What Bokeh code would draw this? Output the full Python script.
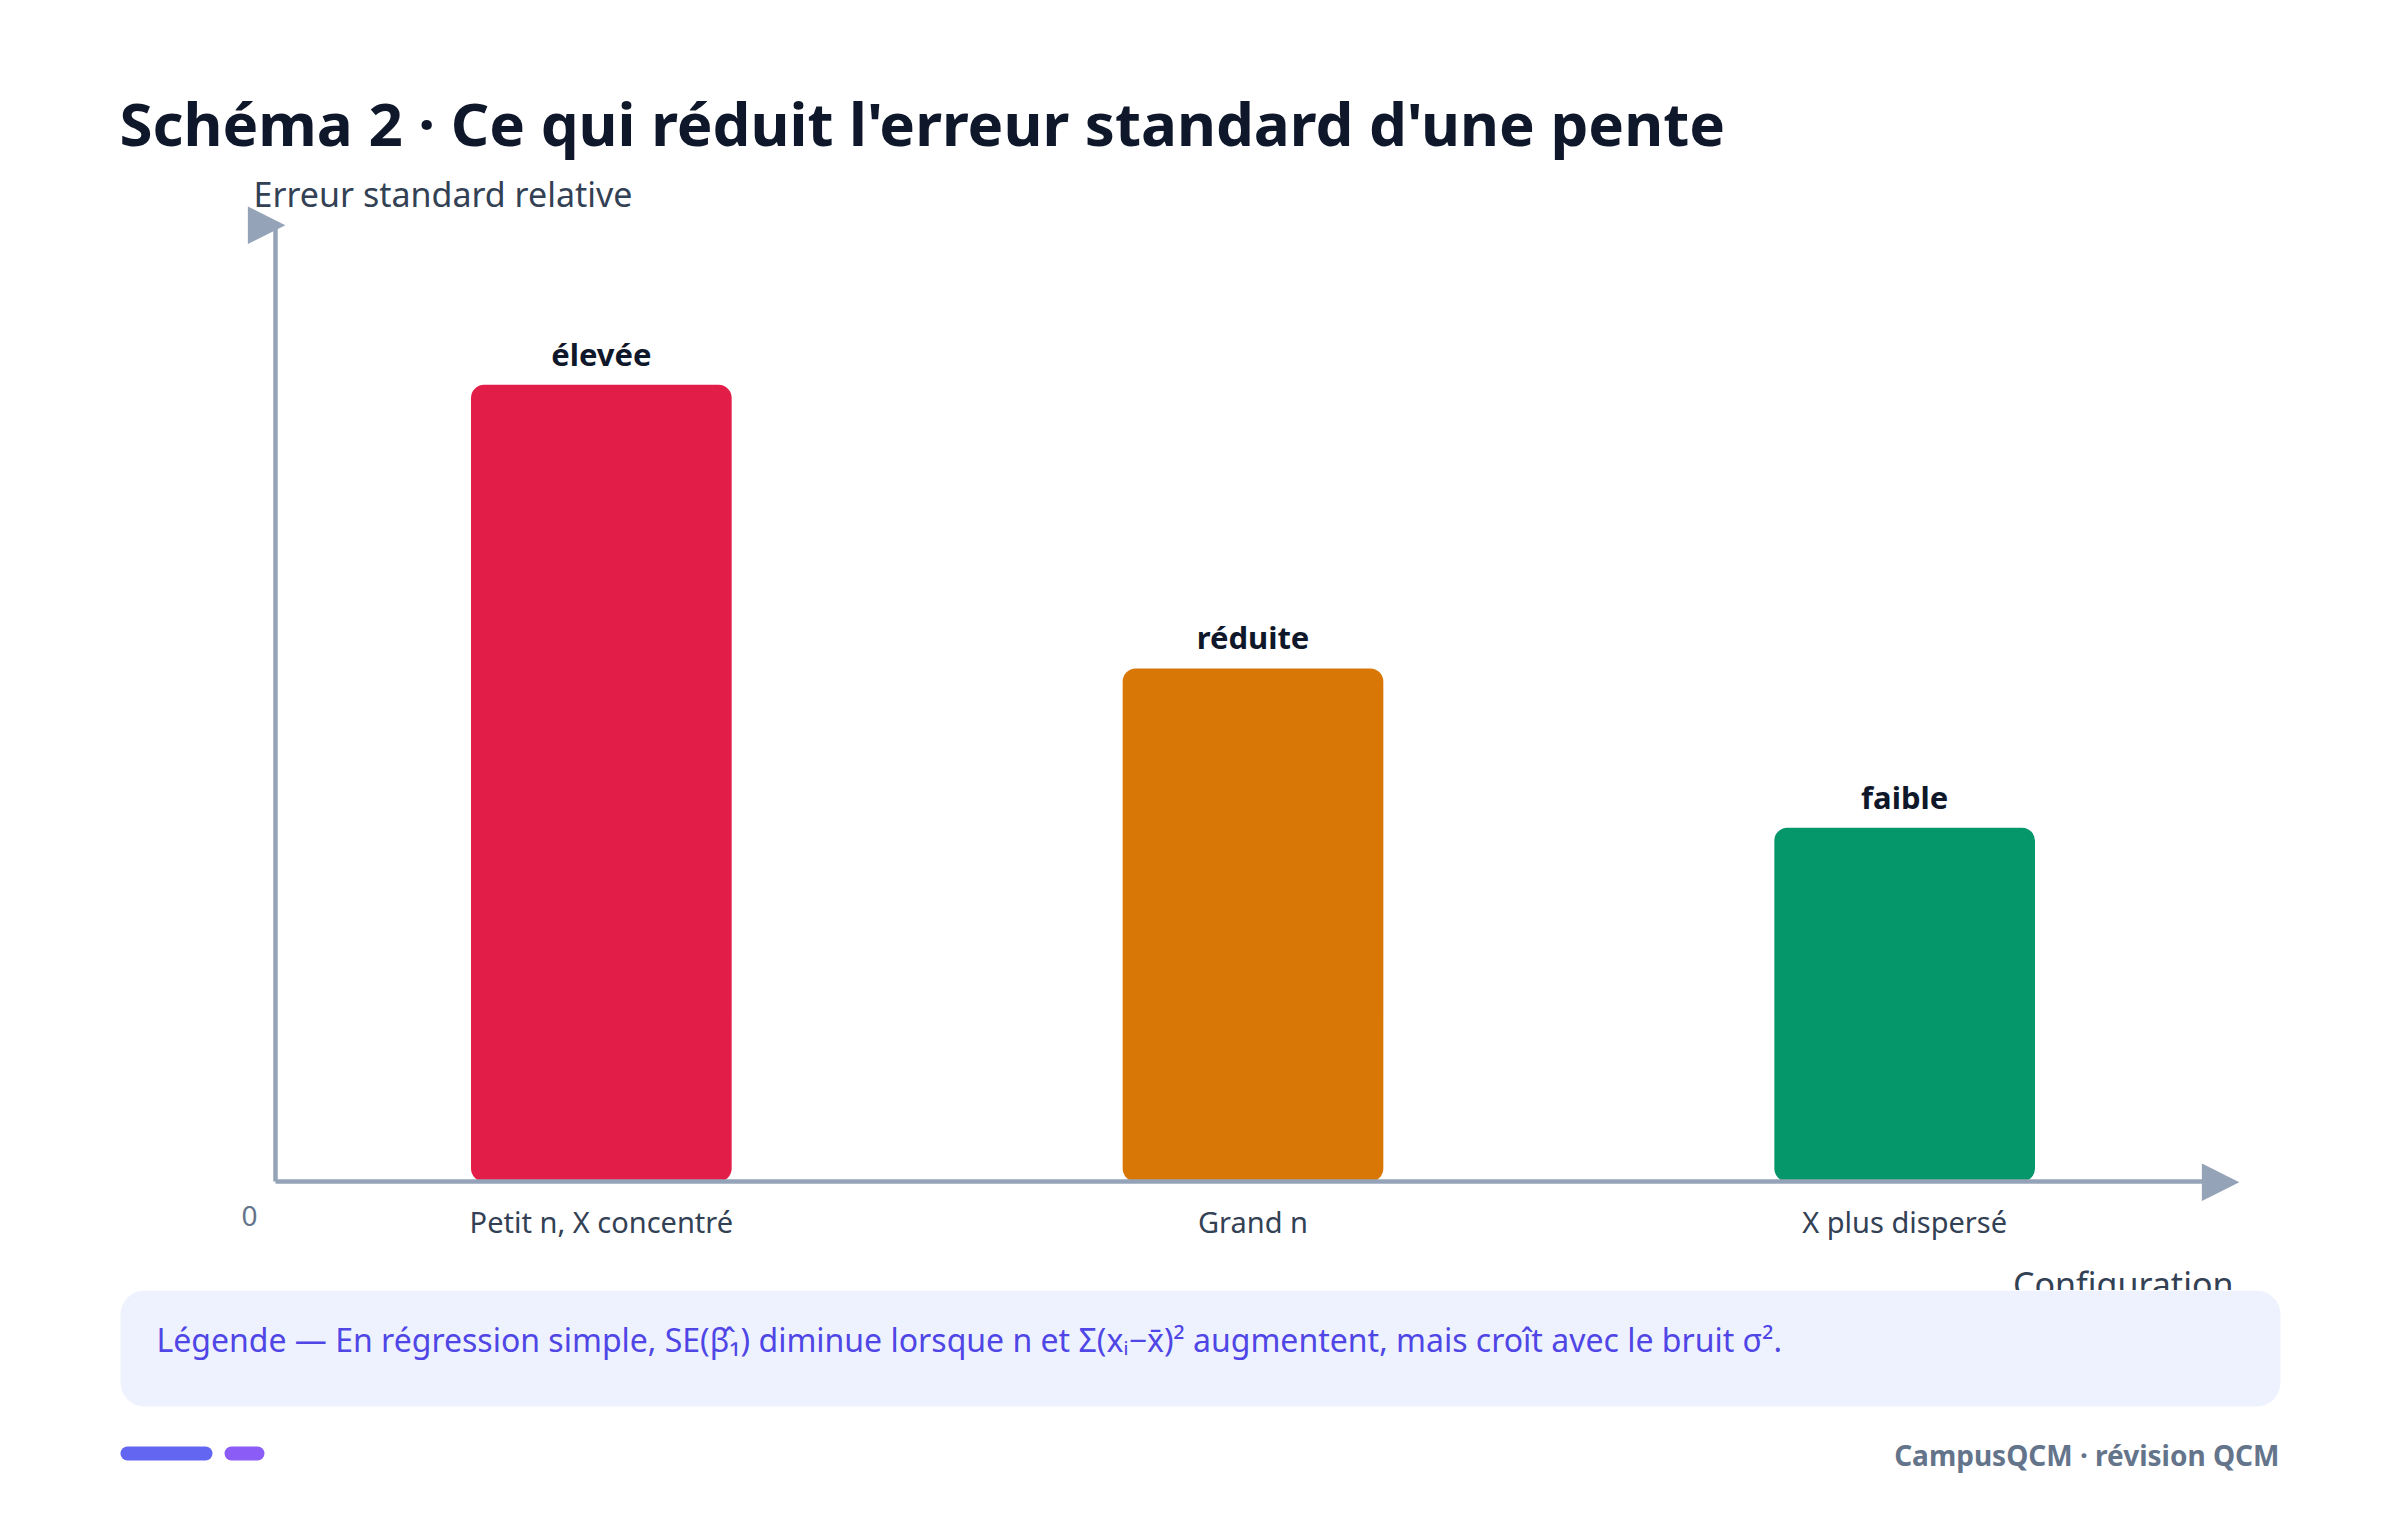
from bokeh.plotting import figure
from bokeh.models import (ColumnDataSource, FactorRange, Range1d, FixedTicker,
                          Label, LabelSet)
from bokeh.core.properties import value
from bokeh.layouts import column
from bokeh.embed import file_html
from bokeh.resources import INLINE

# Données du schéma
configurations = ["Petit n, X concentré", "Grand n", "X plus dispersé"]
erreur_relative = [1.0, 0.644, 0.444]
niveaux = ["élevée", "réduite", "faible"]
couleurs = ["#E11D48", "#D97706", "#059669"]

titre = "Schéma 2 · Ce qui réduit l'erreur standard d'une pente"
legende = ("Légende — En régression simple, SE(\u03b2\u0302\u2081) diminue lorsque n et "
           "\u03a3(x\u1d62\u2212x\u0304)\u00b2 augmentent, mais croît avec le bruit \u03c3\u00b2.")
pied = "CampusQCM · révision QCM"

FONT = "Noto Sans"
AXE = "#94A3B8"
W = 2384
H1 = 1290
H2 = 216

# cadre du graphique (px dans la figure)
left, right, top, bottom = 275, 2230, 225, 1181


def fx(px):
    # pixel horizontal -> coordonnée synthétique de l'axe catégoriel
    return (px - left) / (right - left) * len(configurations)


source = ColumnDataSource(data=dict(cfg=configurations, val=erreur_relative,
                                    niv=niveaux, col=couleurs))

p = figure(x_range=FactorRange(*configurations, range_padding=0),
           y_range=Range1d(0, 1.2), width=W, height=H1,
           output_backend="svg", toolbar_location=None, tools="",
           min_border_left=left, min_border_right=W - right,
           min_border_top=top, min_border_bottom=H1 - bottom)
p.frame_align = False
p.extra_y_ranges = {"py": Range1d(bottom, top)}
p.outline_line_color = None
p.background_fill_color = "white"
p.border_fill_color = "white"
p.xgrid.grid_line_color = None
p.ygrid.grid_line_color = None

p.vbar(x="cfg", top="val", bottom=0, width=0.4, source=source,
       fill_color="col", line_color=None, border_radius=13)

p.add_layout(LabelSet(x="cfg", y="val", text="niv", source=source, y_offset=19,
                      text_align="center", text_baseline="alphabetic",
                      text_font=value(FONT), text_font_size="31px",
                      text_font_style="bold", text_color="#0F172A"))

xa = p.xaxis[0]
xa.axis_line_color = AXE
xa.axis_line_width = 4.5
xa.major_tick_line_color = None
xa.minor_tick_line_color = None
xa.major_label_standoff = 14
xa.major_label_text_font = FONT
xa.major_label_text_font_size = "29px"
xa.major_label_text_color = "#334155"

ya = p.yaxis[0]
ya.ticker = FixedTicker(ticks=[])
ya.axis_line_color = AXE
ya.axis_line_width = 4.5
ya.major_tick_line_color = None
ya.minor_tick_line_color = None

# textes et flèches hors du cadre : placés dans les marges pour ne pas être coupés
p.add_layout(Label(x=fx(119), y=122, text=titre, y_range_name="py",
                   text_align="left", text_baseline="alphabetic",
                   text_font=FONT, text_font_size="60px", text_font_style="bold",
                   text_color="#0F172A"), "above")
p.add_layout(Label(x=fx(253), y=193, text="Erreur standard relative", y_range_name="py",
                   text_align="left", text_baseline="alphabetic",
                   text_font=FONT, text_font_size="34px", text_color="#334155"), "above")
p.add_layout(Label(x=fx(2233), y=1283, text="Configuration", y_range_name="py",
                   text_align="right", text_baseline="alphabetic",
                   text_font=FONT, text_font_size="34px", text_color="#334155"), "above")

p.add_layout(Label(x=fx(249), y=0, y_offset=-34, text="0",
                   text_align="center", text_baseline="middle",
                   text_font=FONT, text_font_size="28px", text_color="#64748B"), "left")
p.add_layout(Label(x=fx(266), y=top - 4, y_range_name="py", text="\u25b6",
                   text_align="center", text_baseline="middle",
                   text_font="DejaVu Sans", text_font_size="49px", text_color=AXE), "left")
p.add_layout(Label(x=fx(2220), y=bottom - 3, y_range_name="py", text="\u25b6",
                   text_align="center", text_baseline="middle",
                   text_font="DejaVu Sans", text_font_size="49px", text_color=AXE), "left")

# bandeau de légende et pied de page
q = figure(x_range=Range1d(0, W), y_range=Range1d(H2, 0), width=W, height=H2,
           output_backend="svg", toolbar_location=None, tools="", min_border=0)
q.frame_align = False
q.axis.visible = False
q.grid.grid_line_color = None
q.outline_line_color = None
q.background_fill_color = "white"
q.border_fill_color = "white"

q.quad(left=120, right=2280, top=0, bottom=116, fill_color="#EEF2FF",
       line_color=None, border_radius=24)
q.quad(left=[120, 224], right=[212, 264], top=[156, 156], bottom=[170, 170],
       fill_color=["#6366F1", "#8B5CF6"], line_color=None, border_radius=7)

q.add_layout(Label(x=156, y=49, text=legende, text_align="left",
                   text_baseline="alphabetic", text_font=FONT,
                   text_font_size="32px", text_color="#4F46E5"))
q.add_layout(Label(x=2279, y=164, text=pied, text_align="right",
                   text_baseline="alphabetic", text_font=FONT,
                   text_font_size="28px", text_font_style="bold",
                   text_color="#64748B"))

layout = column(p, q, spacing=0)
open("out.html", "w").write(file_html(layout, INLINE))
